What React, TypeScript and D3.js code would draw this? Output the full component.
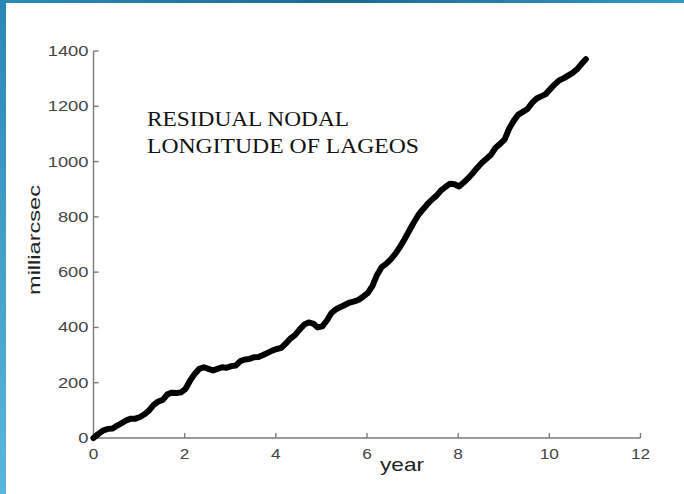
import React from "react";
import * as d3 from "d3";

// Residual nodal longitude of LAGEOS (milliarcsec) against time (years)
const years: number[] = [
  0.0, 0.1, 0.22, 0.32, 0.42, 0.52, 0.62, 0.72, 0.82, 0.92,
  1.02, 1.12, 1.22, 1.32, 1.42, 1.52, 1.62, 1.72, 1.82, 1.92,
  2.02, 2.12, 2.22, 2.32, 2.42, 2.52, 2.62, 2.72, 2.82, 2.92,
  3.02, 3.12, 3.22, 3.32, 3.42, 3.52, 3.62, 3.72, 3.82, 3.92,
  4.02, 4.12, 4.22, 4.32, 4.42, 4.52, 4.62, 4.72, 4.82, 4.92,
  5.02, 5.12, 5.22, 5.32, 5.42, 5.52, 5.62, 5.72, 5.82, 5.92,
  6.02, 6.12, 6.22, 6.32, 6.42, 6.52, 6.62, 6.72, 6.82, 6.92,
  7.02, 7.12, 7.22, 7.32, 7.42, 7.52, 7.62, 7.72, 7.82, 7.92,
  8.02, 8.12, 8.22, 8.32, 8.42, 8.52, 8.62, 8.72, 8.82, 8.92,
  9.02, 9.12, 9.22, 9.32, 9.42, 9.52, 9.62, 9.72, 9.82, 9.92,
  10.02, 10.12, 10.22, 10.32, 10.42, 10.52, 10.62, 10.72, 10.8,
];

const residuals: number[] = [
  0, 14, 28, 33, 34, 45, 54, 64, 70, 70,
  76, 86, 100, 120, 132, 138, 158, 164, 163, 165,
  178, 208, 232, 250, 256, 250, 244, 250, 256, 254,
  260, 262, 278, 284, 286, 292, 293, 300, 308, 316,
  322, 326, 342, 360, 372, 392, 410, 418, 414, 400,
  404, 425, 452, 466, 474, 482, 490, 494, 500, 512,
  525, 550, 590, 618, 630, 646, 666, 690, 718, 748,
  778, 805, 826, 845, 862, 876, 895, 908, 920, 918,
  910, 924, 940, 958, 978, 996, 1010, 1025, 1050, 1064,
  1080, 1120, 1148, 1170, 1180, 1190, 1212, 1228, 1236, 1244,
  1262, 1280, 1294, 1302, 1312, 1322, 1336, 1356, 1370,
];

const xTicks: number[] = [0, 2, 4, 6, 8, 10, 12];
const yTicks: number[] = [0, 200, 400, 600, 800, 1000, 1200, 1400];
const titleLines: string[] = ["RESIDUAL NODAL", "LONGITUDE OF LAGEOS"];
const xLabel = "year";
const yLabel = "milliarcsec";

const W = 684;
const H = 494;

export default function App() {
  const x = d3.scaleLinear().domain([0, 12]).range([93.5, 640.5]);
  const y = d3.scaleLinear().domain([0, 1400]).range([438, 51]);

  const pts: [number, number][] = years.map((t, i) => [t, residuals[i]]);
  const line = d3
    .line<[number, number]>()
    .x((d) => x(d[0]))
    .y((d) => y(d[1]))
    .curve(d3.curveLinear);

  const axisColor = "#7a7a7a";
  const labelColor = "#444";
  const sans = "'Liberation Sans', Arial, sans-serif";

  return (
    <svg
      width={W}
      height={H}
      style={{ position: "fixed", left: 0, top: 0, display: "block" }}
    >
      <defs>
        <linearGradient id="frameTop" x1="0" x2="1" y1="0" y2="0">
          <stop offset="0" stopColor="#2b8bb8" />
          <stop offset="0.5" stopColor="#1d6990" />
          <stop offset="1" stopColor="#3598c6" />
        </linearGradient>
        <linearGradient id="frameLeft" x1="0" x2="0" y1="0" y2="1">
          <stop offset="0" stopColor="#2a87b4" />
          <stop offset="1" stopColor="#5ab6e0" />
        </linearGradient>
      </defs>
      <rect x={0} y={0} width={W} height={H} fill="#ffffff" />
      <rect x={0} y={0} width={W} height={3} fill="url(#frameTop)" />
      <rect x={0} y={0} width={6} height={H} fill="url(#frameLeft)" />

      {/* axes */}
      <g stroke={axisColor} strokeWidth={1.4} fill="none">
        <line x1={x(0)} x2={x(0)} y1={y(1400)} y2={y(0)} />
        <line x1={x(0)} x2={x(12)} y1={y(0)} y2={y(0)} />
        {yTicks.map((v) => (
          <line key={"yt" + v} x1={x(0)} x2={x(0) + 5} y1={y(v)} y2={y(v)} />
        ))}
        {xTicks.map((v) => (
          <line key={"xt" + v} x1={x(v)} x2={x(v)} y1={y(0)} y2={y(0) - 5} />
        ))}
      </g>

      <g fontFamily={sans} fontSize={14} fill={labelColor}>
        {yTicks.map((v) => {
          const s = String(v);
          return (
            <text
              key={"yl" + v}
              x={x(0) - 5}
              y={y(v) + 5}
              textAnchor="end"
              textLength={s.length * 10.2}
              lengthAdjust="spacingAndGlyphs"
            >
              {s}
            </text>
          );
        })}
        {xTicks.map((v) => {
          const s = String(v);
          return (
            <text
              key={"xl" + v}
              x={x(v)}
              y={459}
              textAnchor="middle"
              textLength={s.length * 9.6}
              lengthAdjust="spacingAndGlyphs"
            >
              {s}
            </text>
          );
        })}
      </g>

      <text
        x={402}
        y={471}
        textAnchor="middle"
        fontFamily={sans}
        fontSize={19}
        fill="#222"
        textLength={44}
        lengthAdjust="spacingAndGlyphs"
      >
        {xLabel}
      </text>
      <text
        transform={`translate(40, 240) rotate(-90)`}
        textAnchor="middle"
        fontFamily={sans}
        fontSize={17}
        fill="#222"
        textLength={110}
        lengthAdjust="spacingAndGlyphs"
      >
        {yLabel}
      </text>

      <g fontFamily="'Liberation Serif', 'Times New Roman', serif" fontSize={20} fill="#111">
        <text x={147} y={126} textLength={202} lengthAdjust="spacingAndGlyphs">
          {titleLines[0]}
        </text>
        <text x={147} y={153} textLength={272} lengthAdjust="spacingAndGlyphs">
          {titleLines[1]}
        </text>
      </g>

      <path
        d={line(pts) ?? ""}
        fill="none"
        stroke="#000"
        strokeWidth={6}
        strokeLinejoin="round"
        strokeLinecap="round"
      />
    </svg>
  );
}
